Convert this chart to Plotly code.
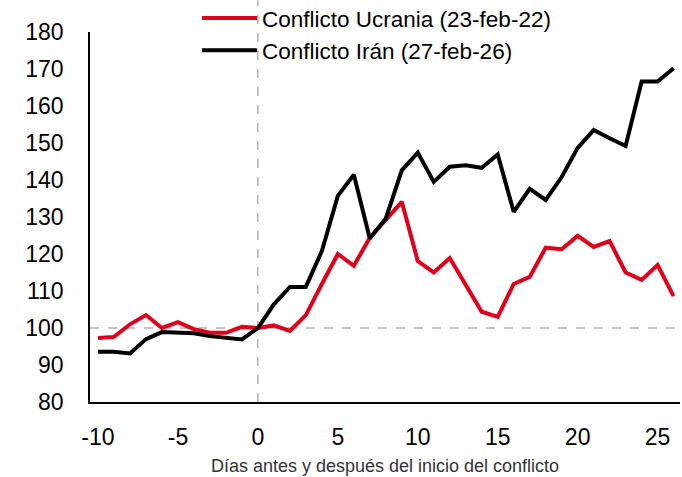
import plotly.graph_objects as go

days = list(range(-10, 27))
ucrania = [97.3, 97.6, 101.0, 103.5, 100.0, 101.6, 99.7, 98.7, 98.7, 100.3,
           100.0, 100.7, 99.2, 103.5, 111.9, 120.0, 116.8, 124.4, 129.2, 134.1,
           118.1, 115.0, 118.9, 111.9, 104.4, 103.0, 111.9, 113.8, 121.7, 121.3,
           124.9, 121.9, 123.5, 115.0, 113.0, 117.0, 108.6]
iran = [93.6, 93.6, 93.1, 97.0, 98.9, 98.8, 98.6, 97.8, 97.4, 96.9,
        100.0, 106.4, 111.1, 111.1, 120.8, 135.7, 141.4, 124.2, 129.6, 142.6,
        147.4, 139.5, 143.6, 144.0, 143.3, 146.9, 131.4, 137.6, 134.6, 140.8,
        148.7, 153.5, 151.3, 149.2, 166.6, 166.6, 170.2]
x_ticks = [-10, -5, 0, 5, 10, 15, 20, 25]
x_labels = ["-10", "-5", "0", "5", "10", "15", "20", "25"]
y_ticks = [80, 90, 100, 110, 120, 130, 140, 150, 160, 170, 180]

FONT = "Liberation Sans, Arial, sans-serif"

fig = go.Figure()
fig.add_trace(go.Scatter(x=days, y=ucrania, mode="lines", name="Conflicto Ucrania (23-feb-22)",
                         line=dict(color="#e0001b", width=4)))
fig.add_trace(go.Scatter(x=days, y=iran, mode="lines", name="Conflicto Irán (27-feb-26)",
                         line=dict(color="#000000", width=4)))

fig.add_shape(type="line", xref="paper", yref="y", x0=0, x1=1, y0=100, y1=100,
              line=dict(color="#b0b0b0", width=1.5, dash="dash"), layer="below")
fig.add_shape(type="line", xref="x", yref="paper", x0=0, x1=0, y0=0, y1=1.085,
              line=dict(color="#888888", width=1, dash="dash"), layer="below")

fig.update_layout(
    width=682, height=477,
    margin=dict(l=90, r=2, t=32, b=75, autoexpand=False),
    paper_bgcolor="white", plot_bgcolor="white",
    font=dict(family=FONT, color="#000000", size=20),
    showlegend=True,
    legend=dict(x=0.1814, y=1.095, xanchor="left", yanchor="top",
                bgcolor="rgba(0,0,0,0)", font=dict(size=22.5, family=FONT),
                tracegroupgap=0, itemwidth=55),
    xaxis=dict(range=[-10.5, 26.4], tickvals=x_ticks, ticktext=x_labels,
               showgrid=False, zeroline=False, automargin=False,
               showline=True, linecolor="black", linewidth=1.5,
               ticks="outside", ticklen=14, tickcolor="rgba(0,0,0,0)",
               tickfont=dict(size=23, family=FONT),
               title=dict(text="Días antes y después del inicio del conflicto",
                          font=dict(size=18, family=FONT, color="#333333"), standoff=10)),
    yaxis=dict(range=[80, 180], tickvals=y_ticks, showgrid=False, zeroline=False,
               automargin=False,
               showline=True, linecolor="black", linewidth=1.5,
               ticks="outside", ticklen=20, tickcolor="rgba(0,0,0,0)",
               tickfont=dict(size=23, family=FONT)),
)

fig.write_html("out.html", config={"displayModeBar": False},
               post_script="document.body.style.margin='0';document.body.style.padding='0';")
